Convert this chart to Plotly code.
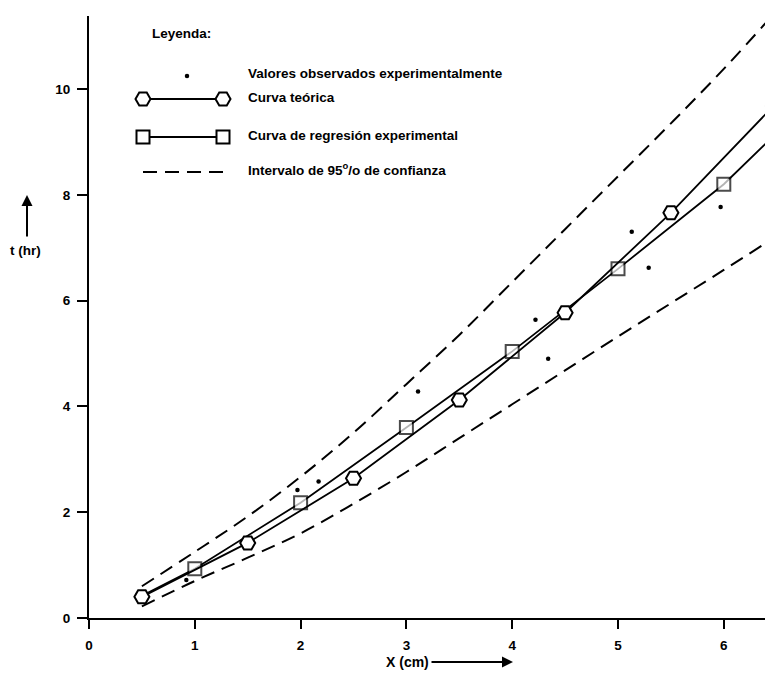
import plotly.graph_objects as go

# ---- data ----
x_obs = [0.92, 1.97, 2.17, 3.11, 4.22, 4.34, 5.13, 5.29, 5.97]
t_obs = [0.72, 2.42, 2.58, 4.28, 5.64, 4.90, 7.30, 6.62, 7.77]

x_teo = [0.5, 1.5, 2.5, 3.5, 4.5, 5.5, 6.47]
t_teo = [0.40, 1.42, 2.64, 4.12, 5.77, 7.66, 9.68]

x_reg = [0.5, 1, 2, 3, 4, 5, 6, 6.5]
t_reg = [0.42, 0.93, 2.18, 3.60, 5.04, 6.60, 8.20, 9.17]
reg_marker = [False, True, True, True, True, True, True, False]

x_int = [0.5, 1, 1.5, 2, 2.5, 3, 3.5, 4, 4.5, 5, 5.5, 6, 6.5]
t_upper = [0.60, 1.25, 1.92, 2.67, 3.50, 4.42, 5.35, 6.35, 7.35, 8.35, 9.35, 10.38, 11.48]
t_lower = [0.22, 0.70, 1.14, 1.60, 2.16, 2.76, 3.40, 4.04, 4.68, 5.32, 5.95, 6.58, 7.22]

x_ticks = [0, 1, 2, 3, 4, 5, 6]
y_ticks = [0, 2, 4, 6, 8, 10]

legend_title = "Leyenda:"
legend_labels = [
    "Valores observados experimentalmente",
    "Curva teórica",
    "Curva de regresión experimental",
    "Intervalo de 95<sup>o</sup>/o de confianza",
]

FONT = "Liberation Sans, Arial, sans-serif"

# ---- layout geometry (page pixels; the page body has an 8px margin) ----
OFF = 8
PAGE_W, PAGE_H = 773, 674
PLOT_L, PLOT_R, PLOT_T, PLOT_B = 89, PAGE_W - OFF, 16, 618
W, H = PAGE_W - 2 * OFF, PAGE_H - OFF
ML, MR, MT, MB = PLOT_L - OFF, 0, PLOT_T - OFF, (H + OFF) - PLOT_B
PW, PH = PLOT_R - PLOT_L, PLOT_B - PLOT_T
X_UNIT, Y_UNIT = 105.8, 52.9   # pixels per data unit


def px(xp):
    return (xp - PLOT_L) / PW


def py(yp):
    return (PLOT_B - yp) / PH


fig = go.Figure()

# confidence interval
for tv in (t_upper, t_lower):
    fig.add_trace(go.Scatter(
        x=x_int, y=tv, mode="lines", line_shape="spline",
        line=dict(color="black", width=2, dash="14px,8px"),
        showlegend=False, hoverinfo="skip"))

# regression curve
fig.add_trace(go.Scatter(
    x=x_reg, y=t_reg, mode="lines+markers",
    line=dict(color="black", width=1.8),
    marker=dict(symbol="square", size=[13 if m else 0 for m in reg_marker],
                color="white", line=dict(color="black", width=2)),
    showlegend=False))

# theoretical curve
fig.add_trace(go.Scatter(
    x=x_teo, y=t_teo, mode="lines+markers",
    line=dict(color="black", width=1.8),
    marker=dict(symbol="hexagon2", size=15, color="white",
                line=dict(color="black", width=2)),
    showlegend=False))

# observed values
fig.add_trace(go.Scatter(
    x=x_obs, y=t_obs, mode="markers",
    marker=dict(symbol="circle", size=4.5, color="black"),
    showlegend=False))

# ---- custom legend glyphs on an overlay paper-like axis ----
lx0, lx1 = px(143), px(223)
rows = [py(76), py(99), py(137), py(172)]
fig.add_trace(go.Scatter(x=[px(187)], y=[rows[0]], xaxis="x2", yaxis="y2",
                         mode="markers", marker=dict(size=4.5, color="black"),
                         showlegend=False, hoverinfo="skip"))
fig.add_trace(go.Scatter(x=[lx0, lx1], y=[rows[1]] * 2, xaxis="x2", yaxis="y2",
                         mode="lines+markers", line=dict(color="black", width=1.8),
                         marker=dict(symbol="hexagon2", size=15, color="white",
                                     line=dict(color="black", width=2)),
                         showlegend=False, hoverinfo="skip"))
fig.add_trace(go.Scatter(x=[lx0, lx1], y=[rows[2]] * 2, xaxis="x2", yaxis="y2",
                         mode="lines+markers", line=dict(color="black", width=1.8),
                         marker=dict(symbol="square", size=13, color="white",
                                     line=dict(color="black", width=2)),
                         showlegend=False, hoverinfo="skip"))
fig.add_trace(go.Scatter(x=[lx0, lx1], y=[rows[3]] * 2, xaxis="x2", yaxis="y2",
                         mode="lines", line=dict(color="black", width=2, dash="14px,8px"),
                         showlegend=False, hoverinfo="skip"))

annotations = [
    dict(text=legend_title, x=px(150), y=py(33), xref="paper", yref="paper",
         xanchor="left", yanchor="middle", showarrow=False,
         font=dict(size=13.5, family=FONT, weight="bold", color="black")),
]
for lab, ty in zip(legend_labels, [73, 97, 135, 169]):
    annotations.append(dict(text=lab, x=px(246), y=py(ty), xref="paper", yref="paper",
                            xanchor="left", yanchor="middle", showarrow=False,
                            font=dict(size=13.5, family=FONT, weight="bold", color="black")))

# axis titles with arrows
annotations += [
    dict(text="t (hr)", x=px(25), y=py(250), xref="paper", yref="paper",
         xanchor="center", yanchor="middle", showarrow=False,
         font=dict(size=13.5, family=FONT, weight="bold", color="black")),
    dict(text="", x=px(27), y=py(195), xref="paper", yref="paper",
         ax=0, ay=43, showarrow=True, arrowhead=2, arrowsize=1.1, arrowwidth=2,
         arrowcolor="black"),
    dict(text="X (cm)", x=px(407), y=py(662), xref="paper", yref="paper",
         xanchor="center", yanchor="middle", showarrow=False,
         font=dict(size=14, family=FONT, weight="bold", color="black")),
    dict(text="", x=px(513), y=py(662), xref="paper", yref="paper",
         ax=-83, ay=0, showarrow=True, arrowhead=2, arrowsize=1.1, arrowwidth=2,
         arrowcolor="black"),
]

tickfont = dict(size=13.5, family=FONT, weight="bold", color="black")

fig.update_layout(
    width=W, height=H,
    margin=dict(l=ML, r=MR, t=MT, b=MB, pad=0),
    paper_bgcolor="white", plot_bgcolor="white",
    showlegend=False,
    xaxis=dict(range=[0, PW / X_UNIT], tickvals=x_ticks, ticktext=[str(v) for v in x_ticks],
               showgrid=False, zeroline=False, showline=True, linecolor="black", linewidth=2,
               ticks="outside", ticklen=9, tickwidth=2, tickcolor="black",
               tickfont=tickfont, ticklabelstandoff=5),
    yaxis=dict(range=[0, PH / Y_UNIT], tickvals=y_ticks, ticktext=[str(v) for v in y_ticks],
               showgrid=False, zeroline=False, showline=True, linecolor="black", linewidth=2,
               ticks="outside", ticklen=10, tickwidth=2, tickcolor="black",
               tickfont=tickfont, ticklabelstandoff=4),
    xaxis2=dict(range=[0, 1], overlaying="x", visible=False, fixedrange=True),
    yaxis2=dict(range=[0, 1], overlaying="y", visible=False, fixedrange=True),
    annotations=annotations,
)

fig.write_html("out.html")
